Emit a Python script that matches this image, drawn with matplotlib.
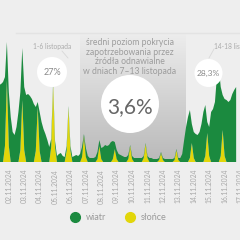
import matplotlib
matplotlib.use("Agg")
import matplotlib.pyplot as plt
import numpy as np
from matplotlib.patches import Circle
from matplotlib.lines import Line2D
from matplotlib.colors import LinearSegmentedColormap

# ---------------- data (3-hour steps, heights in % of demand scale) ----------------
dates = ["02.11.2024", "03.11.2024", "04.11.2024", "05.11.2024", "06.11.2024",
         "07.11.2024", "08.11.2024", "09.11.2024", "10.11.2024", "11.11.2024",
         "12.11.2024", "13.11.2024", "14.11.2024", "15.11.2024", "16.11.2024",
         "17.11.2024"]

slonce = [0, 0, 0, 16, 82, 16, 0, 0,
          0, 0, 0, 12, 62, 12, 0, 0,
          0, 0, 0, 11, 55, 11, 0, 0,
          0, 0, 0, 15, 77, 15, 0, 0,
          0, 0, 0, 11, 54, 11, 0, 0,
          0, 0, 0, 5, 26, 5, 0, 0,
          0, 0, 0, 3, 16, 3, 0, 0,
          0, 0, 0, 3, 13, 3, 0, 0,
          0, 0, 0, 3, 16, 3, 0, 0,
          0, 0, 0, 4, 18, 4, 0, 0,
          0, 0, 0, 2, 9, 2, 0, 0,
          0, 0, 0, 2, 12, 2, 0, 0,
          0, 0, 0, 4, 19, 4, 0, 0,
          0, 0, 0, 6, 29, 6, 0, 0,
          0, 0, 0, 6, 32, 6, 0, 0,
          0, 0, 0, 0]

wiatr = [77, 78, 80, 69, 38, 54, 45, 30,
         27, 35, 50, 58, 52, 63, 67, 68,
         66, 63, 58, 44, 5, 39, 40, 33,
         28, 22, 15, 8, 3, 6, 6, 8,
         9, 6, 5, 5, 2, 5, 5, 6,
         7, 6, 8, 10, 2, 9, 6, 4,
         4, 4, 5, 7, 6, 11, 15, 17,
         16, 17, 20, 18, 7, 9, 8, 7,
         6, 5, 5, 4, 1, 3, 4, 4,
         4, 4, 4, 2, 1, 2, 4, 4,
         3, 3, 3, 2, 1, 2, 3, 3,
         3, 3, 3, 2, 1, 2, 4, 8,
         22, 35, 45, 48, 19, 26, 28, 27,
         30, 38, 50, 51, 11, 29, 50, 53,
         60, 85, 95, 69, 35, 57, 62, 60,
         62, 68, 72, 75]

t0 = -0.625           # first sample (days relative to first date tick)
step = 0.125          # 3 hours
t = t0 + step * np.arange(len(wiatr))

GREEN = "#1b8a3f"
YELLOW = "#e2d60a"
BG = "#eeeeee"
TXT = "#9c9c9c"
FONT = ["Lato", "DejaVu Sans"]

W = H = 240
fig = plt.figure(figsize=(2.4, 2.4), dpi=100, facecolor=BG)

# background layer in pixel coordinates
bg = fig.add_axes([0, 0, 1, 1], zorder=0)
bg.set_xlim(0, W); bg.set_ylim(H, 0); bg.axis("off")
grad = np.linspace(0, 1, 256).reshape(-1, 1)
cm = LinearSegmentedColormap.from_list("g", ["#ededed", "#b9b9b9"])
bg.imshow(grad, cmap=cm, extent=(80, 186, 162, 33), aspect="auto", interpolation="bicubic")
bg.plot([16, 240], [33, 33], color="#e3e3e3", lw=1)

# main chart
ax_bottom = (H - 162) / H
ax_top = (H - 33) / H
ax = fig.add_axes([0, ax_bottom, 1, ax_top - ax_bottom], zorder=1)
ax.patch.set_alpha(0)
ax.stackplot(t, slonce, wiatr, colors=[YELLOW, GREEN], linewidth=0)
px_per_day = 15.74
x_left = (0 - 9) / px_per_day
x_right = (240 - 9) / px_per_day
ax.set_xlim(x_left, x_right)
ax.set_ylim(0, 129)
ax.set_xticks(np.arange(len(dates)))
ax.set_xticklabels(dates, rotation=90, fontsize=4.9, color="#a8a8a8", family=FONT)
ax.tick_params(axis="x", length=0, pad=5)
ax.set_yticks([])
for s in ax.spines.values():
    s.set_visible(False)

# overlay layer (pixel coordinates)
ov = fig.add_axes([0, 0, 1, 1], zorder=2)
ov.set_xlim(0, W); ov.set_ylim(H, 0); ov.axis("off"); ov.patch.set_alpha(0)

ov.add_patch(Circle((130, 104), 29, facecolor="white", edgecolor="none"))
ov.add_patch(Circle((52, 72), 15, facecolor="white", edgecolor="none"))
ov.add_patch(Circle((208.5, 73), 14, facecolor="white", edgecolor="none"))

ov.text(130, 107, "3,6%", ha="center", va="center", fontsize=15, color="#666666", family=FONT)
ov.text(52, 72.5, "27%", ha="center", va="center", fontsize=6.5, color="#8a8a8a", family=FONT)
ov.text(208.5, 73.5, "28,3%", ha="center", va="center", fontsize=6, color="#8a8a8a", family=FONT)

ov.text(130, 57, "średni poziom pokrycia\nzapotrzebowania przez\nźródła odnawialne\nw dniach 7–13 listopada",
        ha="center", va="center", fontsize=6.2, color=TXT, family=FONT, linespacing=1.12)
ov.text(52.5, 46, "1-6 listopada", ha="center", va="center", fontsize=4.8, color="#aaaaaa", family=FONT)
ov.text(214.5, 46, "14-18 listopada", ha="left", va="center", fontsize=4.8, color="#aaaaaa", family=FONT)
ov.plot([62, 68], [51, 58], color="#d8d8d8", lw=0.6)
ov.plot([214, 209], [49, 58], color="#d8d8d8", lw=0.6)

handles = [Line2D([], [], marker="o", ls="", markersize=7, markerfacecolor=GREEN, markeredgecolor=GREEN),
           Line2D([], [], marker="o", ls="", markersize=7, markerfacecolor=YELLOW, markeredgecolor=YELLOW)]
leg = fig.legend(handles, ["wiatr", "słońce"], loc="center", bbox_to_anchor=(0.485, 1 - 218 / H),
                 ncol=2, frameon=False, handletextpad=0.2, columnspacing=1.6,
                 prop={"family": FONT, "size": 6.5})
for tx in leg.get_texts():
    tx.set_color("#999999")

fig.savefig("out.png", dpi=100, facecolor=BG)
